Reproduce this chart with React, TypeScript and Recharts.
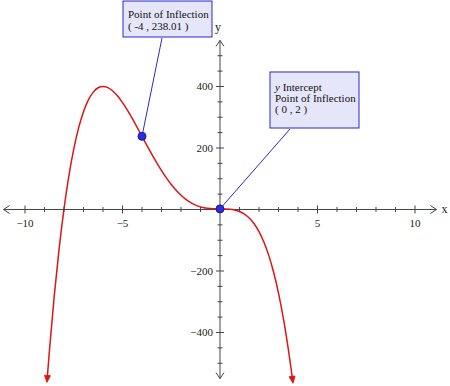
import React from "react";
import {
  ComposedChart,
  Line,
  XAxis,
  YAxis,
  ReferenceLine,
  ReferenceDot,
  ReferenceArea,
} from "recharts";

// Curve samples (x, y)
const curveX = [
  -8.85, -8.75, -8.5, -8.25, -8, -7.75, -7.5, -7.25, -7, -6.75, -6.5, -6.25, -6,
  -5.75, -5.5, -5.25, -5, -4.75, -4.5, -4.25, -4, -3.75, -3.5, -3.25, -3, -2.75,
  -2.5, -2.25, -2, -1.75, -1.5, -1.25, -1, -0.75, -0.5, -0.25, 0, 0.25, 0.5,
  0.75, 1, 1.25, 1.5, 1.75, 2, 2.25, 2.5, 2.75, 3, 3.25, 3.5, 3.65, 3.7,
];
const curveY = [
  -541.2, -461.2, -281.1, -127.4, 2, 109.3, 196.4, 265.5, 318.2, 356.4, 381.8,
  395.9, 400.3, 396.3, 385.4, 368.8, 347.7, 323.1, 296.0, 267.4, 238.0, 208.6,
  179.9, 152.3, 126.5, 102.7, 81.2, 62.4, 46.3, 32.9, 22.2, 14.2, 8.5, 4.8, 2.9,
  2.1, 2, 1.9, 1.0, -1.4, -6.3, -14.7, -27.6, -46.2, -71.8, -105.6, -149.2,
  -204.1, -271.8, -354.0, -452.6, -520.3, -544.3,
];

// Tick values
const xMinorTicks = [-10, -9, -8, -7, -6, -5, -4, -3, -2, -1, 1, 2, 3, 4, 5, 6, 7, 8, 9, 10];
const xLabelTicks = [-10, -5, 5, 10];
const yMinorTicks = [-500, -450, -400, -350, -300, -250, -200, -150, -100, -50, 50, 100, 150, 200, 250, 300, 350, 400, 450, 500];
const yLabelTicks = [-400, -200, 200, 400];

// Annotated points
const pointXs = [-4, 0];
const pointYs = [238.01, 2];
const box1Lines = ["Point of Inflection", "( -4 , 238.01 )"];
const box2Lines = ["y Intercept", "Point of Inflection", "( 0 , 2 )"];

const data = curveX.map((x, i) => ({ x, y: curveY[i] }));

const FONT = '"Liberation Serif", "Times New Roman", serif';
const AXIS = "#444";
const RED = "#dd1515";
const BLUE = "#2a2acc";
const FILL = "#e6e6fa";

const fmt = (v: number) => (v < 0 ? "\u2212" + Math.abs(v) : String(v));

const XTick = (major: boolean) => (p: any) => (
  <line x1={p.cx} x2={p.cx} y1={p.cy - (major ? 4 : 2.5)} y2={p.cy + (major ? 4 : 2.5)} stroke={AXIS} strokeWidth={1} />
);
const YTick = (major: boolean) => (p: any) => (
  <line y1={p.cy} y2={p.cy} x1={p.cx - (major ? 4 : 2.5)} x2={p.cx + (major ? 4 : 2.5)} stroke={AXIS} strokeWidth={1} />
);

const CurveDot = (props: any) => {
  const { cx, cy, index } = props;
  const last = data.length - 1;
  if (index !== 0 && index !== last) return <g key={"d" + index} />;
  const rot = index === 0 ? 4.5 : -7.5;
  return (
    <polygon
      key={"d" + index}
      points="0,6.5 -3,-0.5 3,-0.5"
      transform={`translate(${cx},${cy}) rotate(${rot})`}
      fill={RED}
      stroke={RED}
      strokeWidth={0.8}
    />
  );
};

const BoxShape = (lines: string[], lineGap: number, firstBase: number) => (p: any) => {
  const { x, y, width, height } = p;
  return (
    <g>
      <rect x={x} y={y} width={width} height={height} fill={FILL} stroke={BLUE} strokeWidth={1} />
      {lines.map((t, i) => {
        const italicY = t.startsWith("y ");
        return (
          <text key={i} x={x + 5} y={y + firstBase + i * lineGap} fontFamily={FONT} fontSize={11} fill="#111">
            {italicY ? (
              <>
                <tspan fontStyle="italic">y</tspan>
                <tspan>{t.slice(1)}</tspan>
              </>
            ) : (
              t
            )}
          </text>
        );
      })}
    </g>
  );
};

export default function App() {
  return (
    <div style={{ position: "absolute", left: 0, top: 0, width: 450, height: 386, background: "#fff" }}>
      <ComposedChart width={450} height={386} data={data} margin={{ top: 0, right: 0, bottom: 0, left: 0 }}>
        <XAxis dataKey="x" type="number" domain={[-11.282, 11.795]} allowDataOverflow hide />
        <YAxis type="number" domain={[-574.0, 681.3]} allowDataOverflow hide />

        {/* axes */}
        <ReferenceLine segment={[{ x: -11.1, y: 0 }, { x: 11.1, y: 0 }]} stroke={AXIS} strokeWidth={1} />
        <ReferenceLine segment={[{ x: 0, y: -550 }, { x: 0, y: 550 }]} stroke={AXIS} strokeWidth={1} />

        {/* axis arrows */}
        <ReferenceDot x={-11.1} y={0} r={0} shape={(p: any) => (
          <polyline points={`${p.cx + 6},${p.cy - 4} ${p.cx},${p.cy} ${p.cx + 6},${p.cy + 4}`} fill="none" stroke={AXIS} strokeWidth={1} />
        )} />
        <ReferenceDot x={11.1} y={0} r={0} shape={(p: any) => (
          <polyline points={`${p.cx - 6},${p.cy - 4} ${p.cx},${p.cy} ${p.cx - 6},${p.cy + 4}`} fill="none" stroke={AXIS} strokeWidth={1} />
        )} />
        <ReferenceDot x={0} y={550} r={0} shape={(p: any) => (
          <polyline points={`${p.cx - 4},${p.cy + 6} ${p.cx},${p.cy} ${p.cx + 4},${p.cy + 6}`} fill="none" stroke={AXIS} strokeWidth={1} />
        )} />
        <ReferenceDot x={0} y={-550} r={0} shape={(p: any) => (
          <polyline points={`${p.cx - 4},${p.cy - 6} ${p.cx},${p.cy} ${p.cx + 4},${p.cy - 6}`} fill="none" stroke={AXIS} strokeWidth={1} />
        )} />

        {/* axis names */}
        <ReferenceDot x={11.1} y={0} r={0} shape={(p: any) => (
          <text x={p.cx + 5} y={p.cy + 4} fontFamily={FONT} fontSize={12} fill="#222">x</text>
        )} />
        <ReferenceDot x={0} y={550} r={0} shape={(p: any) => (
          <text x={p.cx - 2} y={p.cy - 9} textAnchor="middle" fontFamily={FONT} fontSize={12} fill="#222">y</text>
        )} />

        {/* ticks */}
        {xMinorTicks.map((v) => (
          <ReferenceDot key={"xt" + v} x={v} y={0} r={0} shape={XTick(v % 5 === 0)} />
        ))}
        {yMinorTicks.map((v) => (
          <ReferenceDot key={"yt" + v} x={0} y={v} r={0} shape={YTick(v % 200 === 0)} />
        ))}
        {xLabelTicks.map((v) => (
          <ReferenceDot key={"xl" + v} x={v} y={0} r={0} shape={(p: any) => (
            <text x={p.cx} y={p.cy + 18} textAnchor="middle" fontFamily={FONT} fontSize={11} fill="#222">{fmt(v)}</text>
          )} />
        ))}
        {yLabelTicks.map((v) => (
          <ReferenceDot key={"yl" + v} x={0} y={v} r={0} shape={(p: any) => (
            <text x={p.cx - 7} y={p.cy + 4} textAnchor="end" fontFamily={FONT} fontSize={11} fill="#222">{fmt(v)}</text>
          )} />
        ))}

        {/* annotation boxes and leaders */}
        <ReferenceLine segment={[{ x: -2.974, y: 557.7 }, { x: pointXs[0], y: pointYs[0] }]} stroke={BLUE} strokeWidth={1} />
        <ReferenceLine segment={[{ x: 3.59, y: 261.8 }, { x: pointXs[1], y: pointYs[1] }]} stroke={BLUE} strokeWidth={1} />
        <ReferenceArea x1={-4.974} x2={-0.41} y1={561} y2={678} shape={BoxShape(box1Lines, 12, 17)} />
        <ReferenceArea x1={2.564} x2={7.128} y1={265} y2={447.2} shape={BoxShape(box2Lines, 11, 19)} />

        <Line
          dataKey="y"
          type="monotone"
          stroke={RED}
          strokeWidth={1.5}
          dot={CurveDot}
          activeDot={false}
          isAnimationActive={false}
        />

        {pointXs.map((x, i) => (
          <ReferenceDot key={"p" + i} x={x} y={pointYs[i]} r={4} fill="#2b2bf0" stroke="#1a1a80" strokeWidth={1} />
        ))}
      </ComposedChart>
    </div>
  );
}
